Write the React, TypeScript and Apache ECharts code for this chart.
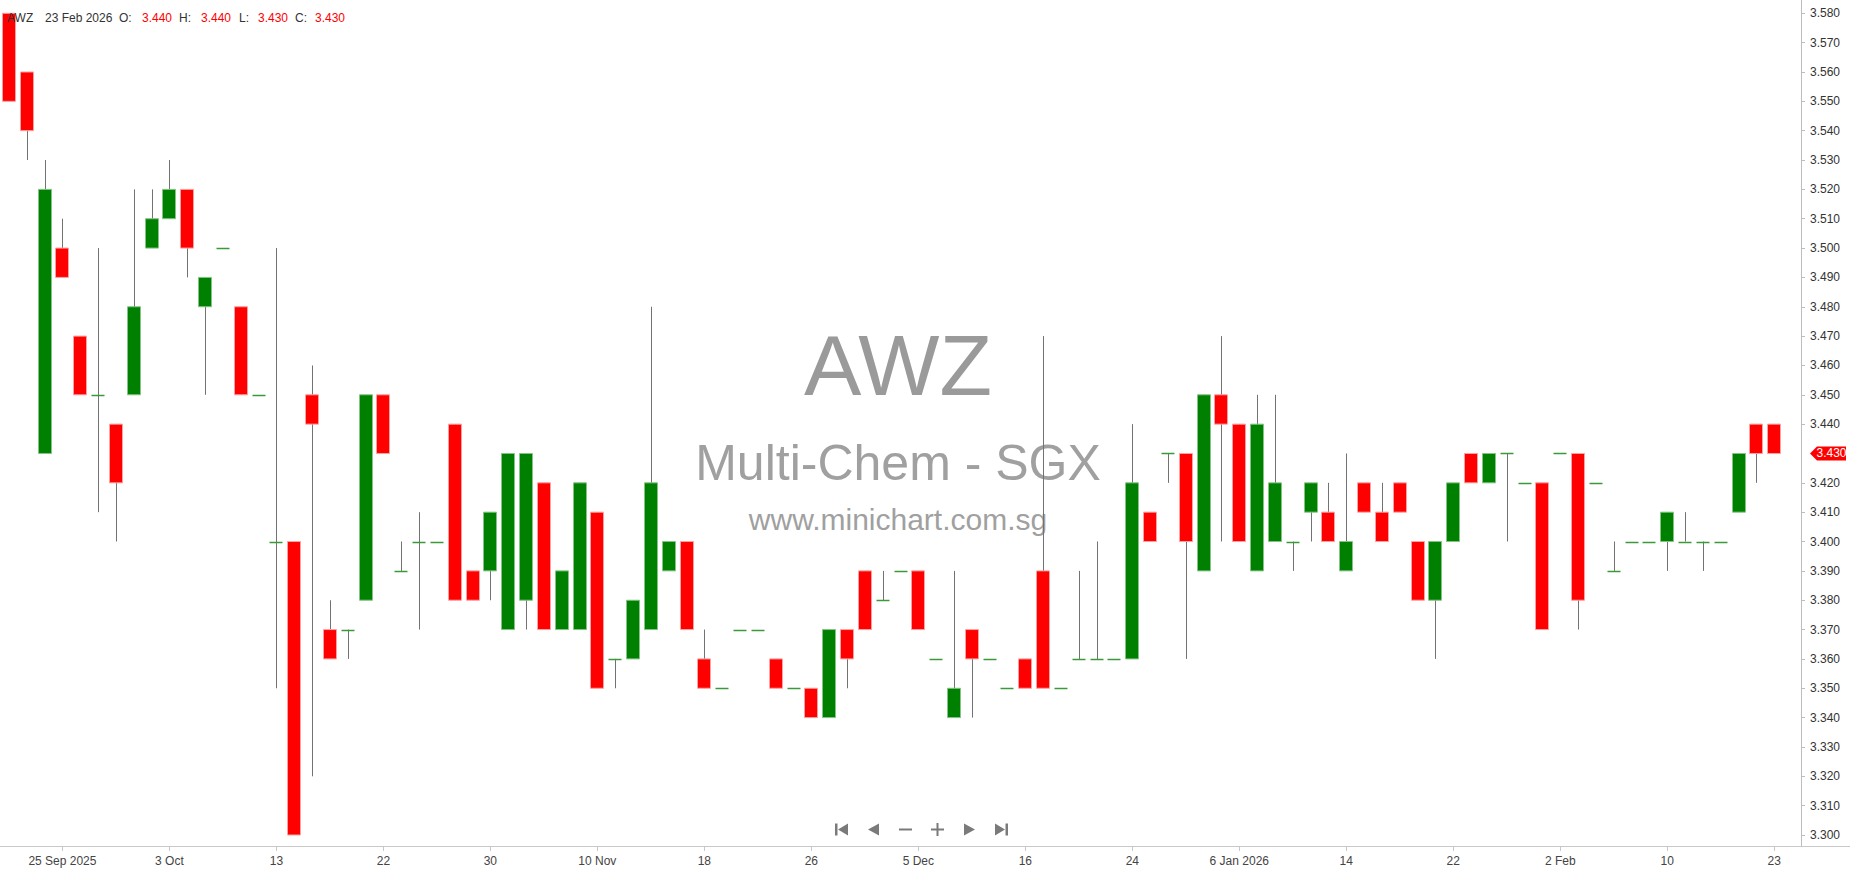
import React, { useEffect, useRef } from "react";
import * as echarts from "echarts";

// ---------- data ----------
const dates: string[] = [
  "2025-09-22", "2025-09-23", "2025-09-24", "2025-09-25", "2025-09-26", "2025-09-29", "2025-09-30", "2025-10-01", "2025-10-02", "2025-10-03",
  "2025-10-06", "2025-10-07", "2025-10-08", "2025-10-09", "2025-10-10", "2025-10-13", "2025-10-14", "2025-10-15", "2025-10-16", "2025-10-17",
  "2025-10-21", "2025-10-22", "2025-10-23", "2025-10-24", "2025-10-27", "2025-10-28", "2025-10-29", "2025-10-30", "2025-10-31", "2025-11-03",
  "2025-11-04", "2025-11-05", "2025-11-06", "2025-11-10", "2025-11-11", "2025-11-12", "2025-11-13", "2025-11-14", "2025-11-17", "2025-11-18",
  "2025-11-19", "2025-11-20", "2025-11-21", "2025-11-24", "2025-11-25", "2025-11-26", "2025-11-27", "2025-11-28", "2025-12-01", "2025-12-02",
  "2025-12-04", "2025-12-05", "2025-12-08", "2025-12-09", "2025-12-10", "2025-12-11", "2025-12-12", "2025-12-16", "2025-12-17", "2025-12-18",
  "2025-12-19", "2025-12-22", "2025-12-23", "2025-12-24", "2025-12-26", "2025-12-29", "2025-12-30", "2025-12-31", "2026-01-05", "2026-01-06",
  "2026-01-07", "2026-01-08", "2026-01-09", "2026-01-12", "2026-01-13", "2026-01-14", "2026-01-15", "2026-01-16", "2026-01-19", "2026-01-20",
  "2026-01-21", "2026-01-22", "2026-01-23", "2026-01-26", "2026-01-27", "2026-01-28", "2026-01-29", "2026-02-02", "2026-02-03", "2026-02-04",
  "2026-02-05", "2026-02-06", "2026-02-09", "2026-02-10", "2026-02-11", "2026-02-12", "2026-02-13", "2026-02-19", "2026-02-20", "2026-02-23",
];

const opens: number[] = [
  3.58, 3.56, 3.43, 3.50, 3.47, 3.45, 3.44, 3.45, 3.50, 3.51,
  3.52, 3.48, 3.50, 3.48, 3.45, 3.40, 3.40, 3.45, 3.37, 3.37,
  3.38, 3.45, 3.39, 3.40, 3.40, 3.44, 3.39, 3.39, 3.37, 3.38,
  3.42, 3.37, 3.37, 3.41, 3.36, 3.36, 3.37, 3.39, 3.40, 3.36,
  3.35, 3.37, 3.37, 3.36, 3.35, 3.35, 3.34, 3.37, 3.39, 3.38,
  3.39, 3.39, 3.36, 3.34, 3.37, 3.36, 3.35, 3.36, 3.39, 3.35,
  3.36, 3.36, 3.36, 3.36, 3.41, 3.43, 3.43, 3.39, 3.45, 3.44,
  3.39, 3.40, 3.40, 3.41, 3.41, 3.39, 3.42, 3.41, 3.42, 3.40,
  3.38, 3.40, 3.43, 3.42, 3.43, 3.42, 3.42, 3.43, 3.43, 3.42,
  3.39, 3.40, 3.40, 3.40, 3.40, 3.40, 3.40, 3.41, 3.44, 3.44,
];

const closes: number[] = [
  3.55, 3.54, 3.52, 3.49, 3.45, 3.45, 3.42, 3.48, 3.51, 3.52,
  3.50, 3.49, 3.50, 3.45, 3.45, 3.40, 3.30, 3.44, 3.36, 3.37,
  3.45, 3.43, 3.39, 3.40, 3.40, 3.38, 3.38, 3.41, 3.43, 3.43,
  3.37, 3.39, 3.42, 3.35, 3.36, 3.38, 3.42, 3.40, 3.37, 3.35,
  3.35, 3.37, 3.37, 3.35, 3.35, 3.34, 3.37, 3.36, 3.37, 3.38,
  3.39, 3.37, 3.36, 3.35, 3.36, 3.36, 3.35, 3.35, 3.35, 3.35,
  3.36, 3.36, 3.36, 3.42, 3.40, 3.43, 3.40, 3.45, 3.44, 3.40,
  3.44, 3.42, 3.40, 3.42, 3.40, 3.40, 3.41, 3.40, 3.41, 3.38,
  3.40, 3.42, 3.42, 3.43, 3.43, 3.42, 3.37, 3.43, 3.38, 3.42,
  3.39, 3.40, 3.40, 3.41, 3.40, 3.40, 3.40, 3.43, 3.43, 3.43,
];

const lows: number[] = [
  3.55, 3.53, 3.43, 3.49, 3.45, 3.41, 3.40, 3.45, 3.50, 3.51,
  3.49, 3.45, 3.50, 3.45, 3.45, 3.35, 3.30, 3.32, 3.36, 3.36,
  3.38, 3.43, 3.39, 3.37, 3.40, 3.38, 3.38, 3.38, 3.37, 3.37,
  3.37, 3.37, 3.37, 3.35, 3.35, 3.36, 3.37, 3.39, 3.37, 3.35,
  3.35, 3.37, 3.37, 3.35, 3.35, 3.34, 3.34, 3.35, 3.37, 3.38,
  3.39, 3.37, 3.36, 3.34, 3.34, 3.36, 3.35, 3.35, 3.35, 3.35,
  3.36, 3.36, 3.36, 3.36, 3.40, 3.42, 3.36, 3.39, 3.40, 3.40,
  3.39, 3.40, 3.39, 3.40, 3.40, 3.39, 3.41, 3.40, 3.41, 3.38,
  3.36, 3.40, 3.42, 3.42, 3.40, 3.42, 3.37, 3.43, 3.37, 3.42,
  3.39, 3.40, 3.40, 3.39, 3.40, 3.39, 3.40, 3.41, 3.42, 3.43,
];

const highs: number[] = [
  3.58, 3.56, 3.53, 3.51, 3.47, 3.50, 3.44, 3.52, 3.52, 3.53,
  3.52, 3.49, 3.50, 3.48, 3.45, 3.50, 3.40, 3.46, 3.38, 3.37,
  3.45, 3.45, 3.40, 3.41, 3.40, 3.44, 3.39, 3.41, 3.43, 3.43,
  3.42, 3.39, 3.42, 3.41, 3.36, 3.38, 3.48, 3.40, 3.40, 3.37,
  3.35, 3.37, 3.37, 3.36, 3.35, 3.35, 3.37, 3.37, 3.39, 3.39,
  3.39, 3.39, 3.36, 3.39, 3.37, 3.36, 3.35, 3.36, 3.47, 3.35,
  3.39, 3.40, 3.36, 3.44, 3.41, 3.43, 3.43, 3.45, 3.47, 3.44,
  3.45, 3.45, 3.40, 3.42, 3.42, 3.43, 3.42, 3.42, 3.42, 3.40,
  3.40, 3.42, 3.43, 3.43, 3.43, 3.42, 3.42, 3.43, 3.43, 3.42,
  3.40, 3.40, 3.40, 3.41, 3.41, 3.40, 3.40, 3.43, 3.44, 3.44,
];

const yTickValues: number[] = [
  3.30, 3.31, 3.32, 3.33, 3.34, 3.35, 3.36, 3.37, 3.38, 3.39,
  3.40, 3.41, 3.42, 3.43, 3.44, 3.45, 3.46, 3.47, 3.48, 3.49,
  3.50, 3.51, 3.52, 3.53, 3.54, 3.55, 3.56, 3.57, 3.58,
];

const ticker = "AWZ";
const companyName = "Multi-Chem - SGX";
const siteName = "www.minichart.com.sg";
const monthNames = ["Jan", "Feb", "Mar", "Apr", "May", "Jun", "Jul", "Aug", "Sep", "Oct", "Nov", "Dec"];
const xLabelStart = 3;
const xLabelStep = 6;

// ---------- helpers ----------
const FONT = "'Liberation Sans', Arial, sans-serif";
const RED = "#ff0000";
const GREEN = "#008000";

function parts(d: string) {
  const [y, m, dd] = d.split("-").map(Number);
  return { y, m, d: dd };
}
function xLabel(value: string, index: number): string {
  if (!value) return "";
  const p = parts(value);
  if (index === xLabelStart) return `${p.d} ${monthNames[p.m - 1]} ${p.y}`;
  const prev = parts(dates[index - xLabelStep]);
  if (prev.y !== p.y) return `${p.d} ${monthNames[p.m - 1]} ${p.y}`;
  if (prev.m !== p.m) return `${p.d} ${monthNames[p.m - 1]}`;
  return `${p.d}`;
}
const showLabel = (index: number) => index >= xLabelStart && index < dates.length && (index - xLabelStart) % xLabelStep === 0;

export default function App() {
  const ref = useRef<HTMLDivElement>(null);

  useEffect(() => {
    if (!ref.current) return;
    const chart = echarts.init(ref.current, null, { renderer: "svg" });

    const categories = [...dates, ""];
    const seriesData = dates.map((d, i) => [i, opens[i], closes[i], lows[i], highs[i]]);
    const last = dates.length - 1;
    const lastClose = closes[last];
    const tickVals = yTickValues.filter((v) => Math.abs(v - lastClose) > 1e-6);

    const option: any = {
      animation: false,
      textStyle: { fontFamily: FONT },
      grid: { left: 0, right: 49, top: 0, bottom: 28, outerBoundsMode: "none", containLabel: false },
      xAxis: {
        type: "category",
        data: categories,
        boundaryGap: true,
        axisLine: { show: true, lineStyle: { color: "#c8c8c8", width: 1 } },
        axisTick: {
          show: true,
          alignWithLabel: true,
          interval: (i: number) => showLabel(i),
          length: 5,
          lineStyle: { color: "#c8c8c8" },
        },
        axisLabel: {
          interval: (i: number) => showLabel(i),
          formatter: xLabel,
          color: "#444",
          fontSize: 12,
          fontFamily: FONT,
          margin: 9,
        },
        splitLine: { show: false },
      },
      yAxis: {
        type: "value",
        position: "right",
        min: 3.29625,
        max: 3.58453,
        axisLine: { show: true, lineStyle: { color: "#bdbdbd", width: 1 } },
        axisTick: {
          show: true,
          length: 4,
          customValues: tickVals,
          lineStyle: { color: "#bdbdbd" },
        },
        axisLabel: {
          customValues: tickVals,
          formatter: (v: number) => v.toFixed(3),
          color: "#333",
          fontSize: 12,
          fontFamily: FONT,
          margin: 9,
        },
        splitLine: { show: false },
      },
      series: [
        {
          type: "custom",
          name: ticker,
          data: seriesData,
          encode: { x: 0, y: [1, 2, 3, 4] },
          clip: false,
          z: 5,
          renderItem: (params: any, api: any) => {
            const idx = api.value(0);
            const o = api.value(1);
            const c = api.value(2);
            const l = api.value(3);
            const h = api.value(4);
            const band = api.size([1, 0])[0];
            const bw = Math.round(band * 0.75);
            const xc = Math.round(api.coord([idx, o])[0]);
            const x = xc + 0.5;
            const yO = api.coord([idx, o])[1];
            const yC = api.coord([idx, c])[1];
            const yL = api.coord([idx, l])[1];
            const yH = api.coord([idx, h])[1];
            const children: any[] = [];
            if (h !== l) {
              children.push({
                type: "line",
                shape: { x1: x, y1: yH, x2: x, y2: yL },
                style: { stroke: "#727272", lineWidth: 1 },
              });
            }
            if (o === c) {
              const yy = Math.round(yO) + 0.5;
              children.push({
                type: "line",
                shape: { x1: xc - bw / 2, y1: yy, x2: xc + bw / 2, y2: yy },
                style: { stroke: "#3a9a3a", lineWidth: 1.5 },
              });
            } else {
              const up = c > o;
              const top = Math.min(yO, yC);
              children.push({
                type: "rect",
                shape: { x: xc - bw / 2, y: top, width: bw, height: Math.abs(yO - yC) },
                style: {
                  fill: up ? GREEN : RED,
                  stroke: up ? "#86c486" : "#ffa0a0",
                  lineWidth: 1,
                },
              });
            }
            return { type: "group", children };
          },
        },
      ],
    };

    chart.setOption(option);

    // annotations
    const priceY = chart.convertToPixel({ yAxisIndex: 0 }, lastClose) as number;
    const lp = parts(dates[last]);
    const lastDateText = `${lp.d} ${monthNames[lp.m - 1]} ${lp.y}`;
    const valColor = closes[last] < opens[last] ? RED : GREEN;
    const hdrY = 18;
    const hdr = (x: number, text: string, color: string) => ({
      type: "text",
      x,
      y: hdrY,
      z: 100,
      style: { text, fill: color, font: `12px ${FONT}`, textVerticalAlign: "middle" },
    });
    const wm = (y: number, text: string, size: number, color: string) => ({
      type: "text",
      x: 898,
      y,
      z: 0,
      silent: true,
      style: { text, fill: color, font: `${size}px ${FONT}`, textAlign: "center", textVerticalAlign: "middle" },
    });
    const navColor = "#7a7a7a";
    const ny = 829.5;
    const graphics: any[] = [
      wm(365, ticker, 86, "#9a9a9a"),
      wm(463, companyName, 50, "#a0a0a0"),
      wm(519.5, siteName, 30, "#a0a0a0"),
      hdr(7, ticker, "#333"),
      hdr(45, lastDateText, "#333"),
      hdr(119, "O:", "#333"),
      hdr(142, opens[last].toFixed(3), valColor),
      hdr(179, "H:", "#333"),
      hdr(201, highs[last].toFixed(3), valColor),
      hdr(239, "L:", "#333"),
      hdr(258, lows[last].toFixed(3), valColor),
      hdr(295, "C:", "#333"),
      hdr(315, closes[last].toFixed(3), valColor),
      // x-axis line extension under the price scale
      {
        type: "line",
        z: 50,
        shape: { x1: 1801, y1: 846.5, x2: 1850, y2: 846.5 },
        style: { stroke: "#c8c8c8", lineWidth: 1 },
      },
      // last price marker
      {
        type: "polygon",
        z: 60,
        shape: {
          points: [
            [1810, priceY],
            [1817, priceY - 7],
            [1846, priceY - 7],
            [1846, priceY + 7],
            [1817, priceY + 7],
          ],
        },
        style: { fill: RED },
      },
      {
        type: "text",
        z: 61,
        x: 1831.5,
        y: priceY,
        style: {
          text: lastClose.toFixed(3),
          fill: "#fff",
          font: `12px ${FONT}`,
          textAlign: "center",
          textVerticalAlign: "middle",
        },
      },
      // navigation buttons
      { type: "rect", z: 60, shape: { x: 835, y: ny - 6, width: 2.5, height: 12 }, style: { fill: navColor } },
      { type: "polygon", z: 60, shape: { points: [[848, ny - 6], [848, ny + 6], [838, ny]] }, style: { fill: navColor } },
      { type: "polygon", z: 60, shape: { points: [[879, ny - 6], [879, ny + 6], [868, ny]] }, style: { fill: navColor } },
      { type: "rect", z: 60, shape: { x: 899, y: ny - 1, width: 13, height: 2 }, style: { fill: navColor } },
      { type: "rect", z: 60, shape: { x: 931, y: ny - 1, width: 13, height: 2 }, style: { fill: navColor } },
      { type: "rect", z: 60, shape: { x: 936.5, y: ny - 6.5, width: 2, height: 13 }, style: { fill: navColor } },
      { type: "polygon", z: 60, shape: { points: [[964, ny - 6], [964, ny + 6], [975, ny]] }, style: { fill: navColor } },
      { type: "polygon", z: 60, shape: { points: [[995, ny - 6], [995, ny + 6], [1005, ny]] }, style: { fill: navColor } },
      { type: "rect", z: 60, shape: { x: 1005.5, y: ny - 6, width: 2.5, height: 12 }, style: { fill: navColor } },
    ];
    chart.setOption({ graphic: graphics });

    return () => chart.dispose();
  }, []);

  return (
    <div
      ref={ref}
      style={{ position: "fixed", left: 0, top: 0, width: 1850, height: 874, background: "#fff" }}
    />
  );
}
